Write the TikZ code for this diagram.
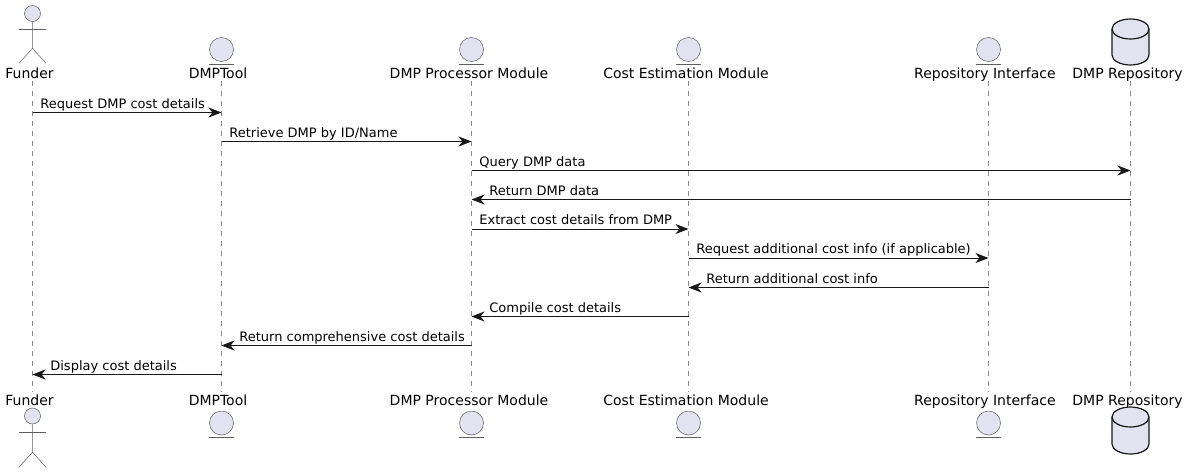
\documentclass[tikz,border=0pt]{standalone}
\usepackage{fontspec}
\setmainfont{DejaVu Sans}
\usepackage{xcolor}
\usetikzlibrary{arrows.meta}
\definecolor{partfill}{HTML}{E2E2F0}
\definecolor{partline}{HTML}{181818}
\tikzset{
	partlabel/.style={inner sep=0pt,text height=12pt,text depth=2pt,minimum height=16pt,font=\fontsize{14}{16}\selectfont,text=black},
	msgtext/.style={inner sep=0pt,anchor=base west,font=\fontsize{13}{15}\selectfont,text=black},
	msg/.style={-{Stealth[length=13pt,width=10pt,inset=4pt]},line width=0.75pt,draw=partline},
	lifeline/.style={dash pattern=on 5pt off 5pt,line width=0.5pt,draw=partline!50},
	thinline/.style={line width=0.5pt,draw=partline!70},
	entityicon/.style={circle,draw=partline!70,fill=partfill,line width=0.5pt,minimum size=24pt,inner sep=0pt},
	actorhead/.style={circle,draw=partline!70,fill=partfill,line width=0.5pt,minimum size=16pt,inner sep=0pt},
	dbicon/.style={draw=partline,fill=partfill,line width=1.2pt},
}
\begin{document}
\begin{tikzpicture}[x=1pt,y=-1pt]
	\useasboundingbox (0,0) rectangle (1189,472);
	
	% top labels
	\node[partlabel] (funderTop) at (29.5,73) {Funder};
	\node[partlabel] (toolTop) at (218,73) {DMPTool};
	\node[partlabel] (procTop) at (469,73) {DMP Processor Module};
	\node[partlabel] (costTop) at (686,73) {Cost Estimation Module};
	\node[partlabel] (ifaceTop) at (985,73) {Repository Interface};
	\node[partlabel] (repoTop) at (1127.5,73) {DMP Repository};
	
	% bottom labels
	\node[partlabel] (funderBot) at (29.5,400) {Funder};
	\node[partlabel] (toolBot) at (218,400) {DMPTool};
	\node[partlabel] (procBot) at (469,400) {DMP Processor Module};
	\node[partlabel] (costBot) at (686,400) {Cost Estimation Module};
	\node[partlabel] (ifaceBot) at (985,400) {Repository Interface};
	\node[partlabel] (repoBot) at (1127.5,400) {DMP Repository};
	
	% top icons
	\node[actorhead] (funderHead) at (32.5,13.5) {};
	\node[entityicon] (toolIcon) at (221.5,49.5) {};
	\node[entityicon] (procIcon) at (471.5,49.5) {};
	\node[entityicon] (costIcon) at (688.5,49.5) {};
	\node[entityicon] (ifaceIcon) at (988.5,49.5) {};
	\coordinate (repoIcon) at (1130.5,19);
	
	% bottom icons
	\node[actorhead] (funderFoot) at (32.5,416) {};
	\node[entityicon] (toolIconB) at (221.5,423) {};
	\node[entityicon] (procIconB) at (471.5,423) {};
	\node[entityicon] (costIconB) at (688.5,423) {};
	\node[entityicon] (ifaceIconB) at (988.5,423) {};
	\coordinate (repoIconB) at (1130.5,407);
	
	% actor bodies
	\draw[thinline] (funderHead.south) -- ++(0,26.5) -- ++(-13.5,15) ++(13.5,-15) -- ++(13.5,15);
	\draw[thinline] ([xshift=-13.5pt,yshift=-7.5pt]funderHead.south) -- ++(27,0);
	\draw[thinline] (funderFoot.south) -- ++(0,28) -- ++(-13.5,15) ++(13.5,-15) -- ++(13.5,15);
	\draw[thinline] ([xshift=-13.5pt,yshift=-8pt]funderFoot.south) -- ++(27,0);
	
	% entity underlines
	\foreach \ent in {toolIcon,procIcon,costIcon,ifaceIcon,toolIconB,procIconB,costIconB,ifaceIconB}
		\draw[thinline] ([xshift=-12.5pt,yshift=-2pt]\ent.south) -- ++(25,0);
	
	% database drums
	\foreach \ent/\side in {repoIcon/26,repoIconB/27}{
		\draw[dbicon] (\ent) ++(-18.5,10) arc[start angle=180,end angle=360,x radius=18.5,y radius=10]
			-- ++(0,\side) arc[start angle=0,end angle=180,x radius=18.5,y radius=10] -- cycle;
		\draw[dbicon,fill=none] (\ent) ++(-18.5,10) arc[start angle=180,end angle=0,x radius=18.5,y radius=10];
	}
	
	% lifelines
	\draw[lifeline] (funderTop.south -| funderHead) -- (funderBot.north -| funderHead);
	\draw[lifeline] (toolTop.south -| toolIcon) -- (toolBot.north -| toolIcon);
	\draw[lifeline] (procTop.south -| procIcon) -- (procBot.north -| procIcon);
	\draw[lifeline] (costTop.south -| costIcon) -- (costBot.north -| costIcon);
	\draw[lifeline] (ifaceTop.south -| ifaceIcon) -- (ifaceBot.north -| ifaceIcon);
	\draw[lifeline] (repoTop.south -| repoIcon) -- (repoBot.north -| repoIcon);
	
	% message rows
	\coordinate (m1) at (0,112.5);
	\coordinate (m2) at (0,141.5);
	\coordinate (m3) at (0,170.5);
	\coordinate (m4) at (0,199.5);
	\coordinate (m5) at (0,229);
	\coordinate (m6) at (0,258);
	\coordinate (m7) at (0,287.5);
	\coordinate (m8) at (0,316.5);
	\coordinate (m9) at (0,345.5);
	\coordinate (m10) at (0,374.5);
	
	% messages
	\draw[msg] (funderHead |- m1) -- (toolIcon |- m1) node[pos=0,msgtext,xshift=7.5pt,yshift=4.5pt] {Request DMP cost details};
	\draw[msg] (toolIcon |- m2) -- (procIcon |- m2) node[pos=0,msgtext,xshift=7.5pt,yshift=4.5pt] {Retrieve DMP by ID/Name};
	\draw[msg] (procIcon |- m3) -- (repoIcon |- m3) node[pos=0,msgtext,xshift=7.5pt,yshift=4.5pt] {Query DMP data};
	\draw[msg] (repoIcon |- m4) -- (procIcon |- m4) node[pos=1,msgtext,xshift=17.5pt,yshift=4.5pt] {Return DMP data};
	\draw[msg] (procIcon |- m5) -- (costIcon |- m5) node[pos=0,msgtext,xshift=7.5pt,yshift=4.5pt] {Extract cost details from DMP};
	\draw[msg] (costIcon |- m6) -- (ifaceIcon |- m6) node[pos=0,msgtext,xshift=7.5pt,yshift=4.5pt] {Request additional cost info (if applicable)};
	\draw[msg] (ifaceIcon |- m7) -- (costIcon |- m7) node[pos=1,msgtext,xshift=17.5pt,yshift=4.5pt] {Return additional cost info};
	\draw[msg] (costIcon |- m8) -- (procIcon |- m8) node[pos=1,msgtext,xshift=17.5pt,yshift=4.5pt] {Compile cost details};
	\draw[msg] (procIcon |- m9) -- (toolIcon |- m9) node[pos=1,msgtext,xshift=17.5pt,yshift=4.5pt] {Return comprehensive cost details};
	\draw[msg] (toolIcon |- m10) -- (funderFoot |- m10) node[pos=1,msgtext,xshift=17.5pt,yshift=4.5pt] {Display cost details};
	
\end{tikzpicture}
\end{document}
